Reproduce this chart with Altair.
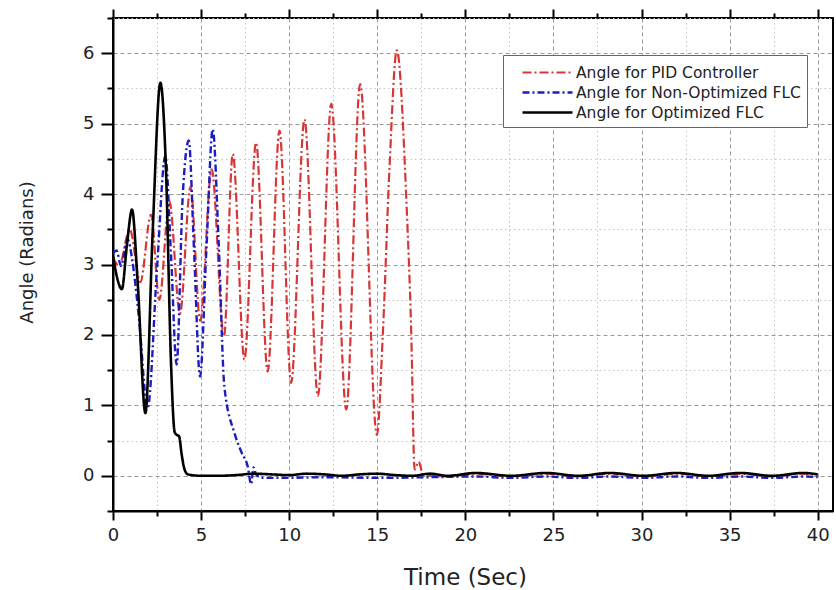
import altair as alt
import pandas as pd

# ---- data ----
series_names = ["Angle for PID Controller", "Angle for Non-Optimized FLC", "Angle for Optimized FLC"]

pid_t = [0, 0.35, 0.95, 1.55, 2.16, 2.63, 3.2, 3.8, 4.4, 4.95,
         5.6, 6.3, 6.8, 7.46, 8.12, 8.78, 9.45, 10.11, 10.87, 11.63,
         12.39, 13.24, 14.03, 14.98, 15.32, 15.7, 16.11, 16.65, 16.93, 17.12,
         17.35, 17.6, 18.2, 19.0, 20.6, 22.6, 24.6, 26.4, 28.2, 30.1,
         32.0, 33.8, 35.6, 37.4, 39.2, 40.0]
pid_y = [3.1, 2.98, 3.5, 2.75, 3.71, 2.5, 3.9, 2.3, 4.1, 2.2,
         4.35, 1.98, 4.57, 1.65, 4.73, 1.48, 4.9, 1.32, 5.06, 1.13,
         5.28, 0.94, 5.56, 0.58, 2.03, 4.4, 6.04, 3.93, 2.03, 0.09,
         0.2, 0.02, 0.0, -0.01, 0.03, -0.01, 0.03, -0.01, 0.03, -0.01,
         0.03, -0.01, 0.03, -0.01, 0.03, 0.01]

nonopt_t = [0, 0.2, 0.45, 0.83, 1.1, 1.45, 1.97, 2.5, 2.97, 3.3,
            3.61, 3.95, 4.3, 4.6, 4.94, 5.3, 5.66, 6.0, 6.32, 6.89,
            7.3, 7.65, 7.84, 7.98, 8.12, 8.5, 9.5, 12, 15, 18,
            20.6, 22.6, 24.6, 26.4, 28.2, 30.1, 32.0, 33.8, 35.6, 37.4,
            39.2, 40.0]
nonopt_y = [3.15, 3.2, 2.98, 3.36, 3.05, 2.3, 0.97, 2.95, 4.54, 3.1,
            1.58, 3.93, 4.76, 3.2, 1.41, 3.2, 4.92, 3.3, 1.27, 0.61,
            0.33, 0.13, -0.12, 0.12, 0.02, -0.03, -0.03, -0.02, -0.03, -0.02,
            -0.01, -0.03, -0.01, -0.03, -0.01, -0.03, -0.01, -0.03, -0.01, -0.03,
            -0.01, -0.02]

opt_t = [0, 0.2, 0.5, 0.8, 1.08, 1.4, 1.84, 2.25, 2.69, 3.0,
         3.3, 3.5, 3.62, 3.75, 3.9, 4.05, 4.25, 5, 6, 7,
         8, 9, 10, 11, 12, 13, 14, 15, 16, 17,
         18, 19, 20.6, 22.6, 24.6, 26.4, 28.2, 30.1, 32, 33.8,
         35.6, 37.4, 39.2, 40]
opt_y = [3.12, 2.85, 2.65, 3.3, 3.78, 2.75, 0.89, 3.45, 5.58, 4.4,
         1.55, 0.62, 0.58, 0.56, 0.3, 0.1, 0.02, 0.0, 0.0, 0.01,
         0.03, 0.02, 0.01, 0.03, 0.02, 0.0, 0.02, 0.03, 0.01, 0.0,
         0.03, 0.0, 0.04, 0.0, 0.04, 0.0, 0.04, 0.0, 0.04, 0.0,
         0.04, 0.0, 0.04, 0.02]

x_tick_values = [i * 2.5 for i in range(17)]
y_tick_values = [-0.5 + i * 0.5 for i in range(15)]

FONT = "DejaVu Sans"


def frame(name, t, y):
    return pd.DataFrame({"t": t, "y": y, "series": name})


pid_df = frame(series_names[0], pid_t, pid_y)
nonopt_df = frame(series_names[1], nonopt_t, nonopt_y)
opt_df = frame(series_names[2], opt_t, opt_y)

x_scale = alt.Scale(domain=[0, 40.87], nice=False, zero=False)
y_scale = alt.Scale(domain=[-0.5, 6.5], nice=False, zero=False)

legend = alt.Legend(
    orient="none", legendX=390, legendY=37,
    fillColor="white", strokeColor="#666", padding=6,
    symbolType="M-2.5,0H2.5", symbolSize=400, symbolOffset=27,
    labelOffset=17, labelFont=FONT, labelFontSize=15.5, labelColor="#222",
    labelLimit=400, rowPadding=0,
)

color_enc = alt.Color("series:N", scale=alt.Scale(domain=series_names, range=["#d83636", "#1c1cc4", "#000000"]),
                      legend=legend, title=None)
dash_enc = alt.StrokeDash("series:N", scale=alt.Scale(domain=series_names, range=[[9, 3, 2, 3], [7, 3, 2, 3], [1, 0]]),
                          legend=legend, title=None)
width_enc = alt.StrokeWidth("series:N", scale=alt.Scale(domain=series_names, range=[2.2, 2.6, 2.6]),
                            legend=legend, title=None)

x_axis = alt.Axis(
    values=x_tick_values,
    labelExpr="datum.value % 5 === 0 ? format(datum.value, 'd') : ''",
    labelFont=FONT, labelFontSize=18, labelColor="#222", labelPadding=6,
    labelOverlap=False, labelFlush=False,
    tickSize={"condition": {"test": "datum.value % 5 !== 0", "value": 5}, "value": 9},
    tickColor="black", tickWidth=2, domainColor="black", domainWidth=2,
    grid=True,
    gridColor={"condition": {"test": "datum.value % 5 !== 0", "value": "#c4c4c4"}, "value": "#9a9a9a"},
    gridDash={"condition": {"test": "datum.value % 5 !== 0", "value": [1.5, 3]}, "value": [4, 3]},
    gridWidth=1,
    title="Time (Sec)", titleFont=FONT, titleFontSize=23, titleFontWeight="normal", titleColor="#222",
    titleX=352, titleY=66, titleAlign="center", titleBaseline="middle",
)

y_axis = alt.Axis(
    values=y_tick_values,
    labelExpr="datum.value % 1 === 0 ? format(datum.value, 'd') : ''",
    labelFont=FONT, labelFontSize=18, labelColor="#222", labelPadding=7,
    labelOverlap=False, labelFlush=False,
    tickSize={"condition": {"test": "datum.value % 1 !== 0", "value": 6}, "value": 12},
    tickColor="black", tickWidth=2, domainColor="black", domainWidth=2,
    grid=True,
    gridColor={"condition": {"test": "datum.value % 1 !== 0", "value": "#c4c4c4"}, "value": "#9a9a9a"},
    gridDash={"condition": {"test": "datum.value % 1 !== 0", "value": [1.5, 3]}, "value": [4, 3]},
    gridWidth=1,
    title="Angle (Radians)", titleFont=FONT, titleFontSize=18, titleFontWeight="normal", titleColor="#222",
    titleX=-86, titleY=234, titleAlign="center", titleBaseline="middle",
)


def line_layer(df):
    return alt.Chart(df).mark_line(interpolate="monotone", clip=True).encode(
        x=alt.X("t:Q", scale=x_scale, axis=x_axis),
        y=alt.Y("y:Q", scale=y_scale, axis=y_axis),
        color=color_enc,
        strokeDash=dash_enc,
        strokeWidth=width_enc,
    )


lines = alt.layer(line_layer(pid_df), line_layer(nonopt_df), line_layer(opt_df))

top_axis = alt.Chart(opt_df).mark_line(opacity=0).encode(
    x=alt.X("t:Q", scale=x_scale, title=None, axis=alt.Axis(
        orient="top", values=x_tick_values, labels=False, grid=False, domain=False,
        tickSize={"condition": {"test": "datum.value % 5 !== 0", "value": 5}, "value": 9},
        tickColor="black", tickWidth=2)),
    y=alt.Y("y:Q", scale=y_scale, axis=y_axis),
)

chart = alt.layer(lines, top_axis).resolve_axis(x="independent").properties(
    width=720, height=493,
    autosize=alt.AutoSizeParams(type="none"),
    padding={"left": 113, "top": 18, "right": 3, "bottom": 79},
    background="white",
).configure_view(stroke="black", strokeWidth=2)

chart.save("out.html", embed_options={"renderer": "svg", "actions": False})
